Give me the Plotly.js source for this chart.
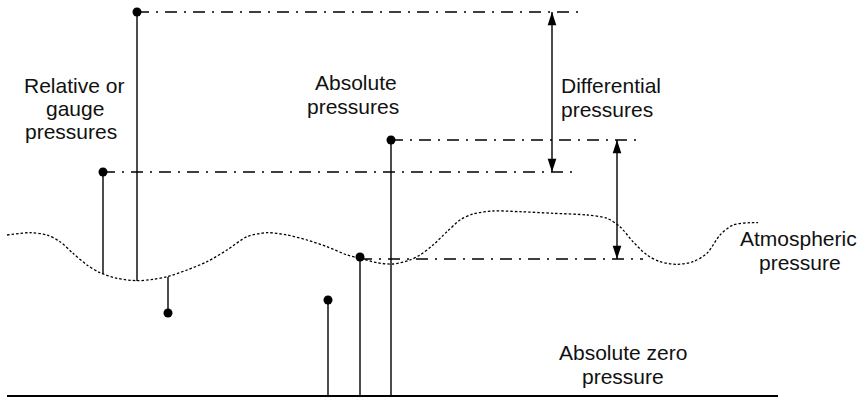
<!DOCTYPE html>
<html>
<head>
<meta charset="utf-8">
<script src="https://cdn.plot.ly/plotly-3.0.1.min.js"></script>
<style>html,body{margin:0;padding:0;background:#fff;}#chart{width:859px;height:398px;}</style>
</head>
<body>
<div id="chart"></div>
<script>
// Atmospheric pressure curve (x position, pressure above absolute zero)
const atmX = [7,30,47,60,73,87,100,117,137,153,167,187,207,227,247,267,287,307,327,347,360,377,393,410,420,433,447,460,473,493,520,553,587,607,620,633,647,660,677,693,707,720,733,750,758];
const atmP = [161,163.3,161,154.3,142.7,131,123.3,117.7,115.3,116.7,119.3,126,134.3,146,159.3,163.3,161,156,149.3,141,137.7,133.3,132,136,141,151,164.3,176,182,185,184.3,182.7,181,177.7,169.3,154.3,141,134.3,131.7,134.3,142.7,161,171,173.3,173.3];

// Relative (gauge) pressures: measured from the atmospheric curve
const gaugeX = [103,137,168];
const gaugeP = [224,384,83];
const gaugeAtm = [122,115,119];

// Absolute pressures: measured from absolute zero
const absX = [328,360,391];
const absP = [96,139,256];

// Dash-dot reference levels
const refP = [384,256,224,137];
const refStart = [137,391,103,360];
const refEnd = [582,643,578,643];

// Differential pressure arrows
const diffX = [552,617];
const diffHigh = [384,256];
const diffLow = [224,137];

// Absolute zero line extent
const zeroX = [7,778];
const zeroP = [0,0];

const txtFont = {family:'"Liberation Sans", Arial, sans-serif', size:21, color:'#111'};

function seg(xsA, ysA, xsB, ysB){
  const x=[], y=[];
  for(let i=0;i<xsA.length;i++){ x.push(xsA[i], xsB[i], null); y.push(ysA[i], ysB[i], null); }
  return {x, y};
}

const traces = [];
traces.push({x:atmX, y:atmP, mode:'lines', line:{color:'#000', width:1.3, dash:'2.5px,2px', shape:'spline', smoothing:0.8}, hoverinfo:'skip'});
const r = seg(refStart, refP, refEnd, refP);
traces.push({x:r.x, y:r.y, mode:'lines', line:{color:'#000', width:1.3, dash:'12px,7px,2px,7px'}, hoverinfo:'skip'});
const g = seg(gaugeX, gaugeAtm, gaugeX, gaugeP);
traces.push({x:g.x, y:g.y, mode:'lines', line:{color:'#000', width:1.4}, hoverinfo:'skip'});
const a = seg(absX, absX.map(()=>0), absX, absP);
traces.push({x:a.x, y:a.y, mode:'lines', line:{color:'#000', width:1.4}, hoverinfo:'skip'});
traces.push({x:zeroX, y:zeroP, mode:'lines', line:{color:'#000', width:2}, hoverinfo:'skip'});
traces.push({x:gaugeX.concat(absX), y:gaugeP.concat(absP), mode:'markers', marker:{color:'#000', size:9}, hoverinfo:'skip'});
for(let i=0;i<diffX.length;i++){
  traces.push({x:[diffX[i], diffX[i]], y:[diffHigh[i], diffLow[i]], mode:'lines+markers',
    line:{color:'#000', width:1.4},
    marker:{symbol:'arrow', size:14, angle:[0,180], color:'#000', line:{width:0}}, hoverinfo:'skip'});
}

const labels = [
  {t:'Relative or', x:74, y:311, xa:'center'},
  {t:'gauge', x:75, y:288, xa:'center'},
  {t:'pressures', x:71, y:265, xa:'center'},
  {t:'Absolute', x:356, y:314, xa:'center'},
  {t:'pressures', x:353, y:290, xa:'center'},
  {t:'Differential', x:560, y:310.5, xa:'left'},
  {t:'pressures', x:560, y:286.5, xa:'left'},
  {t:'Atmospheric', x:798, y:158, xa:'center'},
  {t:'pressure', x:800, y:134, xa:'center'},
  {t:'Absolute zero', x:623, y:44, xa:'center'},
  {t:'pressure', x:623, y:20, xa:'center'}
];

const layout = {
  width:859, height:398,
  margin:{l:0,r:0,t:0,b:0},
  paper_bgcolor:'#fff', plot_bgcolor:'#fff',
  showlegend:false,
  xaxis:{range:[0,859], visible:false, fixedrange:true},
  yaxis:{range:[-2,396], visible:false, fixedrange:true},
  annotations: labels.map(l=>({text:l.t, x:l.x, y:l.y, xref:'x', yref:'y', xanchor:l.xa, yanchor:'middle', showarrow:false, font:txtFont, borderpad:0}))
};

Plotly.newPlot('chart', traces, layout, {displayModeBar:false, staticPlot:true});
</script>
</body>
</html>
